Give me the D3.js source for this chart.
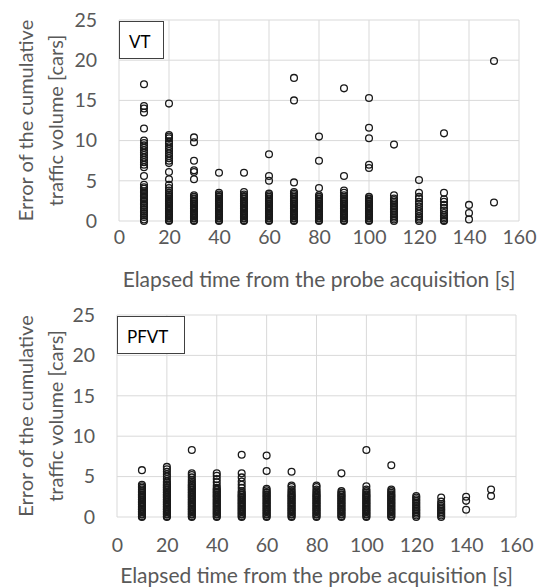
<!DOCTYPE html>
<html>
<head>
<meta charset="utf-8">
<script src="https://cdn.jsdelivr.net/npm/d3@7"></script>
<style>
  html, body { margin: 0; padding: 0; background: #fff; }
  svg { display: block; font-family: Lato, "Open Sans", sans-serif; }
</style>
</head>
<body>
<div id="chart"></div>
<script>
// elapsed time bins [s]
let times = [10, 20, 30, 40, 50, 60, 70, 80, 90, 100, 110, 120, 130, 140, 150];

let xTicks = [0, 20, 40, 60, 80, 100, 120, 140, 160];
let yTicks = [0, 5, 10, 15, 20, 25];

let xTitle = 'Elapsed time from the probe acquisition [s]';
let yTitleLines = ['Error of the cumulative', 'traffic volume [cars]'];

// VT: error of cumulative traffic volume, one list per time bin
let vtErrors = [
  [0, 0.2, 0.5, 0.7, 1, 1.2, 1.5, 1.7, 2, 2.2, 2.5, 2.7, 3, 3.2, 3.5, 3.7, 4, 4.2, 4.5, 5.6, 6.7, 7, 7.3, 7.6, 7.9, 8.2, 8.5, 8.8, 9.1, 9.4, 9.7, 10, 11.5, 13.5, 14, 14.3, 17],
  [0, 0.1, 0.3, 0.4, 0.6, 0.7, 0.9, 1, 1.2, 1.3, 1.5, 1.6, 1.8, 1.9, 2.1, 2.2, 2.4, 2.5, 2.7, 2.8, 3, 3.1, 3.3, 3.5, 3.8, 4.1, 4.5, 5.2, 6.1, 7.2, 7.5, 7.8, 8.1, 8.4, 8.7, 9, 9.3, 9.6, 9.9, 10.3, 10.5, 10.7, 14.6],
  [0, 0.1, 0.3, 0.4, 0.6, 0.7, 0.9, 1, 1.2, 1.3, 1.5, 1.6, 1.8, 1.9, 2.1, 2.2, 2.4, 2.5, 2.7, 2.8, 3, 3.2, 5.2, 6.1, 6.3, 7.5, 9.8, 10.4],
  [0, 0.1, 0.3, 0.4, 0.6, 0.7, 0.9, 1, 1.2, 1.3, 1.5, 1.6, 1.8, 1.9, 2.1, 2.2, 2.4, 2.5, 2.7, 2.8, 3, 3.1, 3.3, 3.5, 6],
  [0, 0.1, 0.3, 0.4, 0.6, 0.7, 0.9, 1, 1.2, 1.3, 1.5, 1.6, 1.8, 1.9, 2.1, 2.2, 2.4, 2.5, 2.7, 2.8, 3, 3.1, 3.3, 3.6, 6],
  [0, 0.1, 0.3, 0.4, 0.6, 0.7, 0.9, 1, 1.2, 1.3, 1.5, 1.6, 1.8, 1.9, 2.1, 2.2, 2.4, 2.5, 2.7, 2.8, 3, 3.2, 3.4, 5, 5.6, 8.3],
  [0, 0.1, 0.3, 0.4, 0.6, 0.7, 0.9, 1, 1.2, 1.3, 1.5, 1.6, 1.8, 1.9, 2.1, 2.2, 2.4, 2.5, 2.7, 2.8, 3, 3.2, 3.4, 3.6, 4.8, 15, 17.8],
  [0, 0.1, 0.3, 0.4, 0.6, 0.7, 0.9, 1, 1.2, 1.3, 1.5, 1.6, 1.8, 1.9, 2.1, 2.2, 2.4, 2.5, 2.7, 2.8, 3, 3.2, 4.1, 7.5, 10.5],
  [0, 0.1, 0.3, 0.4, 0.6, 0.7, 0.9, 1, 1.2, 1.3, 1.5, 1.6, 1.8, 1.9, 2.1, 2.2, 2.4, 2.5, 2.7, 2.8, 3, 3.2, 3.5, 3.8, 5.6, 16.5],
  [0, 0.1, 0.3, 0.4, 0.6, 0.7, 0.9, 1, 1.2, 1.3, 1.5, 1.6, 1.8, 1.9, 2.1, 2.2, 2.4, 2.5, 2.7, 2.8, 3, 6.6, 7, 10.3, 11.6, 15.3],
  [0, 0.2, 0.4, 0.6, 0.8, 1, 1.2, 1.4, 1.6, 1.8, 2, 2.2, 2.4, 2.6, 2.8, 3.2, 9.5],
  [0, 0.2, 0.4, 0.6, 0.9, 1.2, 1.5, 1.8, 2.1, 2.4, 2.8, 3, 3.5, 5.1],
  [0, 0.1, 0.3, 0.5, 0.7, 1, 1.3, 1.6, 2, 2.4, 2.7, 3.5, 10.9],
  [0.2, 1, 2],
  [2.3, 19.9]
];

// PFVT: error of cumulative traffic volume, one list per time bin
let pfvtErrors = [
  [0, 0.1, 0.3, 0.4, 0.6, 0.7, 0.9, 1, 1.2, 1.3, 1.5, 1.6, 1.8, 1.9, 2.1, 2.2, 2.4, 2.5, 2.7, 2.8, 3, 3.2, 3.4, 3.6, 3.8, 4, 5.8],
  [0, 0.1, 0.3, 0.4, 0.6, 0.7, 0.9, 1, 1.2, 1.3, 1.5, 1.6, 1.8, 1.9, 2.1, 2.2, 2.4, 2.5, 2.7, 2.8, 3, 3.1, 3.3, 3.4, 3.6, 3.7, 3.9, 4, 4.2, 4.4, 4.7, 5, 5.3, 5.6, 5.9, 6.2],
  [0, 0.1, 0.3, 0.4, 0.6, 0.7, 0.9, 1, 1.2, 1.3, 1.5, 1.6, 1.8, 1.9, 2.1, 2.2, 2.4, 2.5, 2.7, 2.8, 3, 3.1, 3.3, 3.4, 3.6, 3.7, 3.9, 4, 4.2, 4.4, 4.6, 4.9, 5.2, 5.4, 8.3],
  [0, 0.1, 0.3, 0.4, 0.6, 0.7, 0.9, 1, 1.2, 1.3, 1.5, 1.6, 1.8, 1.9, 2.1, 2.2, 2.4, 2.5, 2.7, 2.8, 3, 3.1, 3.3, 3.4, 3.6, 3.9, 4.3, 4.7, 5.1, 5.4],
  [0, 0.1, 0.3, 0.4, 0.6, 0.7, 0.9, 1, 1.2, 1.3, 1.5, 1.6, 1.8, 1.9, 2.1, 2.2, 2.4, 2.5, 2.7, 2.8, 3, 3.2, 3.6, 4, 4.4, 4.9, 5.4, 7.7],
  [0, 0.1, 0.3, 0.4, 0.6, 0.7, 0.9, 1, 1.2, 1.3, 1.5, 1.6, 1.8, 1.9, 2.1, 2.2, 2.4, 2.5, 2.7, 2.8, 3, 3.1, 3.3, 3.5, 5.7, 7.6],
  [0, 0.1, 0.3, 0.4, 0.6, 0.7, 0.9, 1, 1.2, 1.3, 1.5, 1.6, 1.8, 1.9, 2.1, 2.2, 2.4, 2.5, 2.7, 2.8, 3, 3.2, 3.4, 3.7, 3.9, 5.6],
  [0, 0.1, 0.3, 0.4, 0.6, 0.7, 0.9, 1, 1.2, 1.3, 1.5, 1.6, 1.8, 1.9, 2.1, 2.2, 2.4, 2.5, 2.7, 2.8, 3, 3.2, 3.4, 3.7, 3.9],
  [0, 0.1, 0.3, 0.4, 0.6, 0.7, 0.9, 1, 1.2, 1.3, 1.5, 1.6, 1.8, 1.9, 2.1, 2.2, 2.4, 2.5, 2.7, 2.8, 3, 3.2, 5.4],
  [0, 0.1, 0.3, 0.4, 0.6, 0.7, 0.9, 1, 1.2, 1.3, 1.5, 1.6, 1.8, 1.9, 2.1, 2.2, 2.4, 2.5, 2.7, 2.8, 3, 3.2, 3.4, 3.8, 8.3],
  [0, 0.1, 0.3, 0.4, 0.6, 0.7, 0.9, 1, 1.2, 1.3, 1.5, 1.6, 1.8, 1.9, 2.1, 2.2, 2.4, 2.5, 2.7, 2.8, 3, 3.2, 3.4, 6.4],
  [0, 0.2, 0.4, 0.6, 0.8, 1, 1.2, 1.4, 1.6, 1.8, 2, 2.2, 2.4, 2.6],
  [0, 0.2, 0.4, 0.6, 0.8, 1, 1.2, 1.4, 1.6, 1.9, 2.4],
  [0.9, 2, 2.5],
  [2.6, 3.4]
];

function renderScatterPanel(options) {
  let {
    svg,
    label,
    errors,
    left, right, top, bottom,
    xLabelOffset,
    xTitleY,
    legendWidth
  } = options;

  let textColor = '#595959';
  let gridColor = '#d9d9d9';

  let x = d3.scaleLinear().domain([0, 160]).range([left, right]);
  let y = d3.scaleLinear().domain([0, 25]).range([bottom, top]);

  let g = svg.append('g');

  // gridlines (they also frame the plot area)
  g.append('g')
    .selectAll('line')
    .data(xTicks)
    .enter().append('line')
    .attr('x1', d => x(d)).attr('x2', d => x(d))
    .attr('y1', top).attr('y2', bottom)
    .attr('stroke', gridColor)
    .attr('stroke-width', 1);

  g.append('g')
    .selectAll('line')
    .data(yTicks)
    .enter().append('line')
    .attr('x1', left).attr('x2', right)
    .attr('y1', d => y(d)).attr('y2', d => y(d))
    .attr('stroke', gridColor)
    .attr('stroke-width', 1);

  // tick labels via d3 axes, lines hidden
  let xAxis = g.append('g')
    .attr('transform', 'translate(0,' + bottom + ')')
    .call(d3.axisBottom(x).tickValues(xTicks).tickSize(0).tickPadding(xLabelOffset));
  let yAxis = g.append('g')
    .attr('transform', 'translate(' + left + ',0)')
    .call(d3.axisLeft(y).tickValues(yTicks).tickSize(0).tickPadding(22));
  [xAxis, yAxis].forEach(a => {
    a.select('.domain').remove();
    a.selectAll('text')
      .attr('fill', textColor)
      .style('font-size', '19.5px')
      .style('font-family', 'Lato, sans-serif');
  });

  // axis titles
  g.append('text')
    .attr('x', (left + right) / 2)
    .attr('y', xTitleY)
    .attr('text-anchor', 'middle')
    .attr('fill', textColor)
    .style('font-size', '21px')
    .text(xTitle);

  let midY = (top + bottom) / 2;
  g.append('text')
    .attr('transform', 'translate(0,' + midY + ') rotate(-90)')
    .attr('text-anchor', 'middle')
    .attr('fill', textColor)
    .style('font-size', '20px')
    .selectAll('tspan')
    .data(yTitleLines)
    .enter().append('tspan')
    .attr('x', 0)
    .attr('y', (d, i) => 33 + i * 30)
    .text(d => d);

  // points
  let points = [];
  times.forEach((t, i) => {
    errors[i].forEach(v => points.push({ t, v }));
  });

  g.append('g')
    .selectAll('circle')
    .data(points)
    .enter().append('circle')
    .attr('cx', d => x(d.t))
    .attr('cy', d => y(d.v))
    .attr('r', 3.4)
    .attr('fill', 'none')
    .attr('stroke', '#1a1a1a')
    .attr('stroke-width', 1.3);

  // series label box
  g.append('rect')
    .attr('x', left + 0.5)
    .attr('y', top + 1.5)
    .attr('width', legendWidth)
    .attr('height', 37)
    .attr('fill', '#fff')
    .attr('stroke', '#404040')
    .attr('stroke-width', 1);

  g.append('text')
    .attr('x', left + 10)
    .attr('y', top + 28)
    .attr('fill', '#000')
    .style('font-size', '17px')
    .text(label);
}

let svg = d3.select('#chart')
  .append('svg')
  .attr('width', 542)
  .attr('height', 587);

renderScatterPanel({
  svg,
  label: 'VT',
  errors: vtErrors,
  left: 119, right: 519, top: 20, bottom: 221,
  xLabelOffset: 9,
  xTitleY: 287,
  legendWidth: 44
});

renderScatterPanel({
  svg,
  label: 'PFVT',
  errors: pfvtErrors,
  left: 117, right: 516, top: 315, bottom: 517,
  xLabelOffset: 21,
  xTitleY: 583,
  legendWidth: 67
});
</script>
</body>
</html>
